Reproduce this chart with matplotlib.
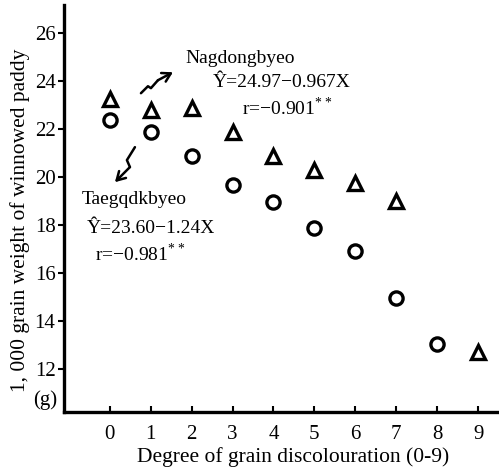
import matplotlib.pyplot as plt

plt.rcParams["font.family"] = ["Liberation Serif", "DejaVu Serif"]
plt.rcParams["mathtext.fontset"] = "custom"
plt.rcParams["mathtext.rm"] = "Liberation Serif"

# =========================
# Data
# =========================
degree = [0, 1, 2, 3, 4, 5, 6, 7, 8, 9]

nagdong_x = [0, 1, 2, 3, 4, 5, 6, 7, 9]
nagdong_y = [23.25, 22.8, 22.9, 21.9, 20.9, 20.3, 19.75, 19.0, 12.7]

taegu_x = [0, 1, 2, 3, 4, 5, 6, 7, 8]
taegu_y = [22.4, 21.9, 20.9, 19.67, 18.96, 17.9, 16.9, 14.96, 13.04]

y_ticks = [12, 14, 16, 18, 20, 22, 24, 26]

# =========================
# Plot
# =========================
fig = plt.figure(figsize=(4.99, 4.70), dpi=100)
ax = fig.add_axes([0.128, 0.123, 0.872, 0.866])

ax.plot(nagdong_x, nagdong_y, linestyle="none", marker="^", markersize=10.5,
        markerfacecolor="white", markeredgecolor="black", markeredgewidth=2.4)
ax.plot(taegu_x, taegu_y, linestyle="none", marker="o", markersize=9.5,
        markerfacecolor="white", markeredgecolor="black", markeredgewidth=2.4)

ax.set_xlim(-1.12, 9.51)
ax.set_ylim(10.2, 27.17)
ax.set_xticks(degree)
ax.set_yticks(y_ticks)

for side in ["top", "right"]:
    ax.spines[side].set_visible(False)
for side in ["left", "bottom"]:
    ax.spines[side].set_linewidth(2.4)

ax.tick_params(axis="y", direction="out", length=4, width=1.5, labelsize=15, pad=2)
ax.tick_params(axis="x", direction="in", length=4, width=1.5, labelsize=15, pad=9)

ax.set_xlabel("Degree of grain discolouration (0-9)", fontsize=15.5)
ax.set_ylabel("1, 000 grain weight of winnowed paddy", fontsize=15.5)
ax.xaxis.set_label_coords(0.527, -0.086)
ax.yaxis.set_label_coords(-0.078, 0.472)
fig.text(0.115, 0.148, "(g)", fontsize=15, ha="right", va="center")

# annotations
ax.text(1.84, 24.96, "Nagdongbyeo", fontsize=14, va="center")
ax.text(2.52, 23.95, "Ŷ=24.97−0.967X", fontsize=14, va="center")
ax.text(3.23, 22.9, "r=−0.901$^{**}$", fontsize=14, va="center")

ax.text(-0.68, 19.05, "Taegqdkbyeo", fontsize=14, va="center")
ax.text(-0.56, 17.85, "Ŷ=23.60−1.24X", fontsize=14, va="center")
ax.text(-0.36, 16.8, "r=−0.981$^{**}$", fontsize=14, va="center")

# squiggly arrows
head = "->,head_length=0.6,head_width=0.35"
ax.plot([0.763, 0.934, 1.007, 1.178], [23.5, 23.79, 23.71, 24.04],
        color="black", lw=1.8, solid_capstyle="round")
ax.annotate("", xy=(1.545, 24.375), xytext=(1.178, 24.04),
            arrowprops=dict(arrowstyle=head, lw=1.8, color="black",
                            shrinkA=0, shrinkB=0))
ax.plot([0.616, 0.420, 0.494], [21.25, 20.71, 20.42],
        color="black", lw=1.8, solid_capstyle="round")
ax.annotate("", xy=(0.127, 19.79), xytext=(0.494, 20.42),
            arrowprops=dict(arrowstyle=head, lw=1.8, color="black",
                            shrinkA=0, shrinkB=0))

plt.savefig("out.png", dpi=100)
